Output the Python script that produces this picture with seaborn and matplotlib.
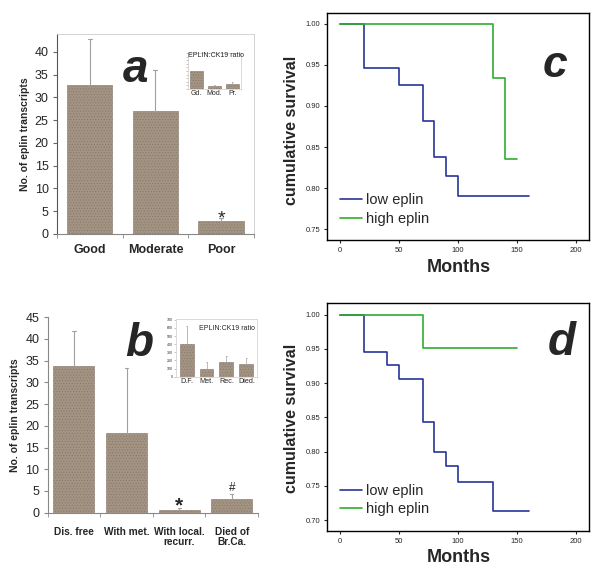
import numpy as np
import matplotlib
matplotlib.use("Agg")
import matplotlib.pyplot as plt
import seaborn as sns

sns.set_style("ticks")
plt.rcParams["font.family"] = ["Liberation Sans", "DejaVu Sans"]
plt.rcParams["hatch.linewidth"] = 0.4

# panel a: transcripts by grade
grade_cats = ["Good", "Moderate", "Poor"]
grade_vals = [32.8, 27.0, 2.8]
grade_err = [10.1, 9.0, 0.8]
grade_ratio_cats = ["Gd.", "Mod.", "Pr."]
grade_ratio_vals = [5.0, 0.8, 1.3]
grade_ratio_err = [0.0, 0.3, 0.6]

# panel b: transcripts by outcome
outcome_cats = ["Dis. free", "With met.", "With local.\nrecurr.", "Died of\nBr.Ca."]
outcome_vals = [33.7, 18.3, 0.6, 3.15]
outcome_err = [8.1, 15.0, 0.5, 1.1]
outcome_ratio_cats = ["D.F.", "Met.", "Rec.", "Died."]
outcome_ratio_vals = [400, 100, 175, 160]
outcome_ratio_err = [230, 85, 85, 75]

# panels c, d: Kaplan-Meier curves
c_low_t = [0, 20, 50, 70, 80, 90, 100, 160]
c_low_s = [1.0, 0.946, 0.925, 0.882, 0.838, 0.815, 0.790, 0.790]
c_high_t = [0, 130, 140, 150]
c_high_s = [1.0, 0.934, 0.835, 0.835]
d_low_t = [0, 20, 40, 50, 70, 80, 90, 100, 130, 160]
d_low_s = [1.0, 0.946, 0.926, 0.906, 0.843, 0.800, 0.779, 0.755, 0.713, 0.713]
d_high_t = [0, 70, 150]
d_high_s = [1.0, 0.952, 0.952]

BAR = "#a39383"
SPECK = "#85776a"
LOW = "#27359a"
HIGH = "#2fae2f"

fig = plt.figure(figsize=(6, 5.72), dpi=100)


def bars(ax, cats, vals, errs, width, lw_err=0.8):
    sns.barplot(x=cats, y=vals, ax=ax, color=BAR, saturation=1, width=width,
                edgecolor=SPECK, linewidth=0.4)
    for p in ax.patches:
        p.set_hatch("......")
    for i, (v, e) in enumerate(zip(vals, errs)):
        if e > 0:
            ax.plot([i, i], [v, v + e], color="#a0a0a0", lw=lw_err, zorder=1)
            ax.plot([i - 0.03, i + 0.03], [v + e, v + e], color="#a0a0a0", lw=lw_err, zorder=1)


# ---- panel a
ax_a = fig.add_axes([0.095, 0.591, 0.328, 0.350])
bars(ax_a, grade_cats, grade_vals, grade_err, 0.69)
ax_a.set_ylim(0, 44)
ax_a.set_yticks(range(0, 41, 5))
ax_a.set_xlim(-0.5, 2.5)
ax_a.set_xticks([-0.5, 0.5, 1.5, 2.5], minor=True)
ax_a.tick_params(axis="x", which="major", length=0, pad=7, labelsize=9)
ax_a.tick_params(axis="x", which="minor", length=3, color="#888888")
ax_a.tick_params(axis="y", length=3, pad=3, labelsize=9, color="#666666")
for t in ax_a.get_xticklabels():
    t.set_fontweight("bold")
ax_a.set_ylabel("No. of eplin transcripts", fontsize=7.5, fontweight="bold", labelpad=3)
for s in ["top", "right"]:
    ax_a.spines[s].set_color("#cccccc")
    ax_a.spines[s].set_linewidth(0.6)
ax_a.spines["left"].set_color("#555555")
ax_a.spines["bottom"].set_color("#888888")
ax_a.text(2, 2.4, "*", ha="center", va="baseline", fontsize=14)
ax_a.text(0.69, 33.3, "a", ha="center", va="baseline", fontsize=33,
          fontweight="bold", fontstyle="italic")

ins_a = fig.add_axes([0.3133, 0.8444, 0.0883, 0.0629])
bars(ins_a, grade_ratio_cats, grade_ratio_vals, grade_ratio_err, 0.7, lw_err=0.5)
ins_a.set_ylim(0, 10)
ins_a.set_yticks(np.arange(0, 10.1, 1))
ins_a.set_yticklabels([])
ins_a.tick_params(axis="y", length=1.5, width=0.4, color="#999999")
ins_a.tick_params(axis="x", length=0, pad=1, labelsize=5)
for s in ins_a.spines.values():
    s.set_color("#cccccc")
    s.set_linewidth(0.5)
ins_a.text(0.52, 0.92, "EPLIN:CK19 ratio", transform=ins_a.transAxes, ha="center",
           va="center", fontsize=5)

# ---- panel b
ax_b = fig.add_axes([0.0795, 0.1037, 0.3505, 0.3416])
bars(ax_b, outcome_cats, outcome_vals, outcome_err, 0.78)
ax_b.set_ylim(0, 45)
ax_b.set_yticks(range(0, 46, 5))
ax_b.set_xlim(-0.5, 3.5)
ax_b.set_xticks([-0.5, 0.5, 1.5, 2.5, 3.5], minor=True)
ax_b.tick_params(axis="x", which="major", length=0, pad=10, labelsize=7.3)
ax_b.tick_params(axis="x", which="minor", length=3, color="#888888")
ax_b.tick_params(axis="y", length=3, pad=3, labelsize=9, color="#888888")
for t in ax_b.get_xticklabels():
    t.set_fontweight("bold")
    t.set_linespacing(1.1)
ax_b.set_ylabel("No. of eplin transcripts", fontsize=7.5, fontweight="bold", labelpad=4)
sns.despine(ax=ax_b)
ax_b.spines["left"].set_color("#888888")
ax_b.spines["bottom"].set_color("#888888")
ax_b.text(2, 0.4, "*", ha="center", va="baseline", fontsize=15, fontweight="bold")
ax_b.text(3, 5.1, "#", ha="center", va="baseline", fontsize=8.5)
ax_b.text(1.25, 36.0, "b", ha="center", va="baseline", fontsize=33,
          fontweight="bold", fontstyle="italic")

ins_b = fig.add_axes([0.2933, 0.3414, 0.135, 0.1009])
bars(ins_b, outcome_ratio_cats, outcome_ratio_vals, outcome_ratio_err, 0.7, lw_err=0.5)
ins_b.set_ylim(0, 710)
ins_b.set_yticks(range(0, 701, 100))
ins_b.tick_params(axis="y", length=1.5, width=0.4, pad=1, labelsize=2.5, color="#999999")
ins_b.tick_params(axis="x", length=0, pad=1, labelsize=5.2)
for s in ins_b.spines.values():
    s.set_color("#cccccc")
    s.set_linewidth(0.5)
ins_b.text(0.97, 0.9, "EPLIN:CK19 ratio", transform=ins_b.transAxes, ha="right",
           va="top", fontsize=5)


# ---- panels c, d
def km(ax, lt, ls, ht, hs, ylim, yticks):
    sns.lineplot(x=lt, y=ls, ax=ax, drawstyle="steps-post", color=LOW, lw=1.2,
                 label="low eplin")
    sns.lineplot(x=ht, y=hs, ax=ax, drawstyle="steps-post", color=HIGH, lw=1.2,
                 label="high eplin")
    ax.set_xlim(-11, 211)
    ax.set_ylim(*ylim)
    ax.set_xticks([0, 50, 100, 150, 200])
    ax.set_yticks(yticks)
    ax.yaxis.set_major_formatter(matplotlib.ticker.FormatStrFormatter("%.2f"))
    ax.tick_params(length=2.5, width=0.8, pad=2.5, labelsize=5.5)
    for s in ax.spines.values():
        s.set_linewidth(1.0)
        s.set_color("black")
    ax.set_xlabel("")
    ax.set_ylabel("")
    ax.legend(loc="lower left", bbox_to_anchor=(0.0, 0.005), frameon=False,
              fontsize=10.5, handlelength=1.5, handletextpad=0.3, labelspacing=0.3)


ax_c = fig.add_axes([0.545, 0.5804, 0.4367, 0.3969])
km(ax_c, c_low_t, c_low_s, c_high_t, c_high_s, (0.737, 1.013),
   [0.75, 0.80, 0.85, 0.90, 0.95, 1.00])
ax_c.text(0.87, 0.72, "c", transform=ax_c.transAxes, ha="center", va="baseline",
          fontsize=32, fontweight="bold", fontstyle="italic")

ax_d = fig.add_axes([0.545, 0.0722, 0.4367, 0.3986])
km(ax_d, d_low_t, d_low_s, d_high_t, d_high_s, (0.6844, 1.0175),
   [0.70, 0.75, 0.80, 0.85, 0.90, 0.95, 1.00])
ax_d.text(0.895, 0.77, "d", transform=ax_d.transAxes, ha="center", va="baseline",
          fontsize=33, fontweight="bold", fontstyle="italic")

for yc, ym in [(1 - 130 / 572, 1 - 267 / 572), (1 - 418 / 572, 1 - 557 / 572)]:
    fig.text(291 / 600, yc, "cumulative survival", rotation=90, ha="center",
             va="center", fontsize=11.5, fontweight="bold")
    fig.text(459 / 600, ym, "Months", ha="center", va="center", fontsize=13,
             fontweight="bold")

fig.savefig("out.png", dpi=100)
